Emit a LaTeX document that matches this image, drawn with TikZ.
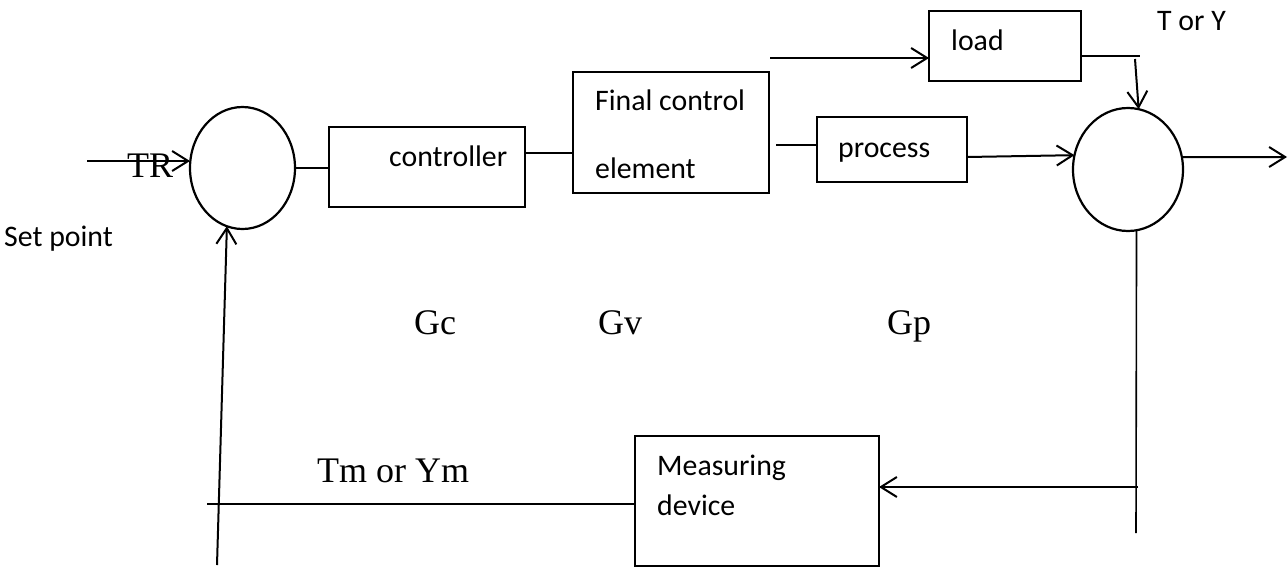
\documentclass[tikz,border=0pt]{standalone}
\usepackage{fontspec}
\setmainfont{Liberation Serif}
\newfontfamily\calfont{Carlito}
\usetikzlibrary{shapes.geometric,arrows.meta}
\begin{document}
\begin{tikzpicture}[x=1pt,y=-1pt,
  sumc/.style={draw,ellipse,line width=2.2pt,inner sep=0pt,outer sep=0pt},
  blk/.style={draw,rectangle,line width=1.6pt,inner sep=0pt,outer sep=0pt},
  wire/.style={line width=1.6pt},
  arr/.style={line width=2pt,-{Straight Barb[length=16pt,width=20pt]}},
  sans/.style={font=\calfont\fontsize{29.8}{36}\selectfont,inner sep=0pt,anchor=base west},
  serif/.style={font=\fontsize{36}{42}\selectfont,inner sep=0pt,anchor=base west}]
\useasboundingbox[fill=white] (0,0) rectangle (1288,573);
% summing junctions
\node[sumc,minimum width=105,minimum height=122] (s1) at (242.5,168) {};
\node[sumc,minimum width=110,minimum height=123] (s2) at (1128,169.5) {};
% blocks
\node[blk,minimum width=196,minimum height=80] (ctrl) at (427,167) {};
\node[blk,minimum width=196,minimum height=121] (fce) at (671,132.5) {};
\node[blk,minimum width=150,minimum height=65] (proc) at (892,149.5) {};
\node[blk,minimum width=152,minimum height=70] (load) at (1005,46) {};
\node[blk,minimum width=244,minimum height=130] (meas) at (757,501) {};
% texts
\node[sans] (tctrl) at (389,166) {controller};
\node[sans] (tfce1) at (595,110) {Final control};
\node[sans] (tfce2) at (595,178) {element};
\node[sans] (tproc) at (838,157) {process};
\node[sans] (tload) at (951,50.5) {load};
\node[sans] (ttory) at (1157,30) {T or Y};
\node[sans] (tmeas1) at (657,475) {Measuring};
\node[sans] (tmeas2) at (657,515) {device};
\node[sans] (tset) at (4,246) {Set point};
\node[serif] (ttr) at (127,177) {TR};
\node[serif] (tgc) at (414,334) {Gc};
\node[serif] (tgv) at (598,334) {Gv};
\node[serif] (tgp) at (887,334) {Gp};
\node[serif] (ttm) at (317,482) {Tm or Ym};
% free ends
\coordinate (in) at (87,161);
\coordinate (lin) at (770,58);
\coordinate (lc) at (1140,56);
\coordinate (ld) at (1135,59);
\coordinate (out) at (1287,157);
\coordinate (rb) at (1136,533);
\coordinate (rf) at (1138,487);
\coordinate (lf) at (207,504);
\coordinate (lb) at (217,565);
% connectors
\draw[arr] (in) -- (s1.west |- in);
\draw[wire] (s1.east) -- (ctrl.west |- s1.east);
\draw[wire] ([yshift=14pt]ctrl.east) -- ([yshift=-20.5pt]fce.west);
\draw[wire] ([xshift=7pt,yshift=-12.5pt]fce.east) -- ([yshift=4.5pt]proc.west);
\draw[arr] ([yshift=-7.5pt]proc.east) -- (s2.165);
\draw[arr] (lin) -- (load.west |- lin);
\draw[wire] ([yshift=-10pt]load.east) -- (lc);
\draw[arr] (ld) -- (s2.80);
\draw[arr] (s2.13) -- (out);
\draw[wire] (s2.-82) -- (rb);
\draw[arr] (rf) -- (meas.east |- rf);
\draw[wire] ([yshift=-3pt]meas.west) -- (lf);
\draw[arr] (lb) -- (s1.-105);
\end{tikzpicture}
\end{document}
